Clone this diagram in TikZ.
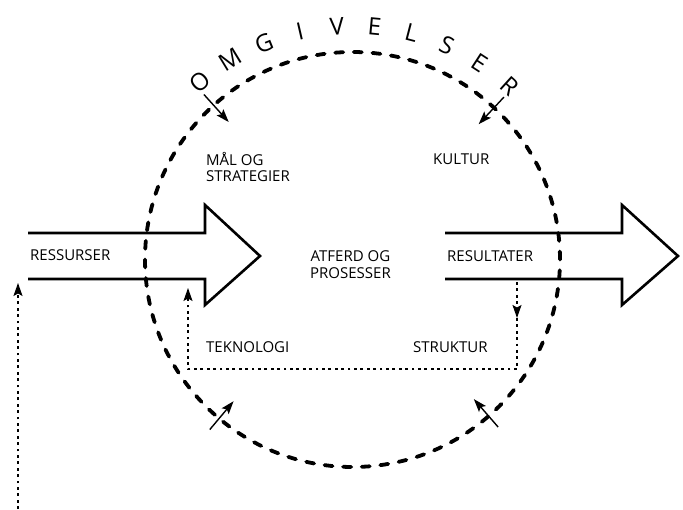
\documentclass[tikz,border=0pt]{standalone}
\usepackage{fontspec}
\setmainfont{Open Sans}
\usetikzlibrary{arrows.meta}
\begin{document}
\begin{tikzpicture}[x=1pt,y=1pt,>={Stealth[length=13pt,width=9pt,inset=2.5pt]},font=\fontsize{15}{16.5}\selectfont,
		blokk/.style={line width=2.6pt,line join=miter},
		prikk/.style={line width=1.3pt,dash pattern=on 2.8pt off 3.6pt},
		merke/.style={line width=1.4pt},
		lbl/.style={inner sep=0pt,align=left},
		bokstav/.style={inner sep=0pt,font=\fontsize{24}{24}\selectfont}]
			\useasboundingbox (0,0) rectangle (683,509);
			\coordinate (c) at (352.5,249.5);
			\draw[line width=3.8pt,line cap=round,dash pattern=on 8pt off 10.626pt](c) circle (207.5);
			\foreach \b [count=\i] in {O,M,G,I,V,E,L,S,E,R}{
				\pgfmathsetmacro\a{139.8-9.2*\i}
				\node[bokstav,rotate=\a-90] (b\i) at ([shift={(\a:234)}]c) {\b};
			}
			\foreach \v in {132,47,230,311}
				\draw[merke,->]([shift={(\v:222)}]c)--([shift={(\v:185)}]c);
			\draw[blokk](28,276)--(205,276)--(205,304)--(260,253)--(205,204)--(205,230)--(28,230);
			\draw[blokk](445,276)--(622,276)--(622,304)--(678,253)--(622,204)--(622,230)--(445,230);
			\node[lbl,anchor=west] (ressurser) at (30,254) {RESSURSER};
			\node[lbl,anchor=west] (resultater) at (447,253) {RESULTATER};
			\node[lbl,align=center] (atferd) at (350.5,244.5) {ATFERD OG\\PROSESSER};
			\node[lbl,anchor=west] (mal) at (206,342) {MÅL OG\\STRATEGIER};
			\node[lbl,anchor=west] (kultur) at (433,350) {KULTUR};
			\node[lbl,anchor=west] (teknologi) at (206,162) {TEKNOLOGI};
			\node[lbl,anchor=west] (struktur) at (413,162) {STRUKTUR};
			\coordinate (kilde) at (18,0);
			\coordinate (inn) at (18,226);
			\draw[prikk,->](kilde)--(inn);
			\coordinate (ut) at (517,227);
			\coordinate (midt) at (517,191);
			\coordinate (hj) at (517,140);
			\coordinate (vn) at (188,140);
			\coordinate (tilbake) at (188,221);
			\draw[prikk,->](ut)--(midt);
			\draw[prikk,->](midt)--(hj)--(vn)--(tilbake);
		\end{tikzpicture}
\end{document}
